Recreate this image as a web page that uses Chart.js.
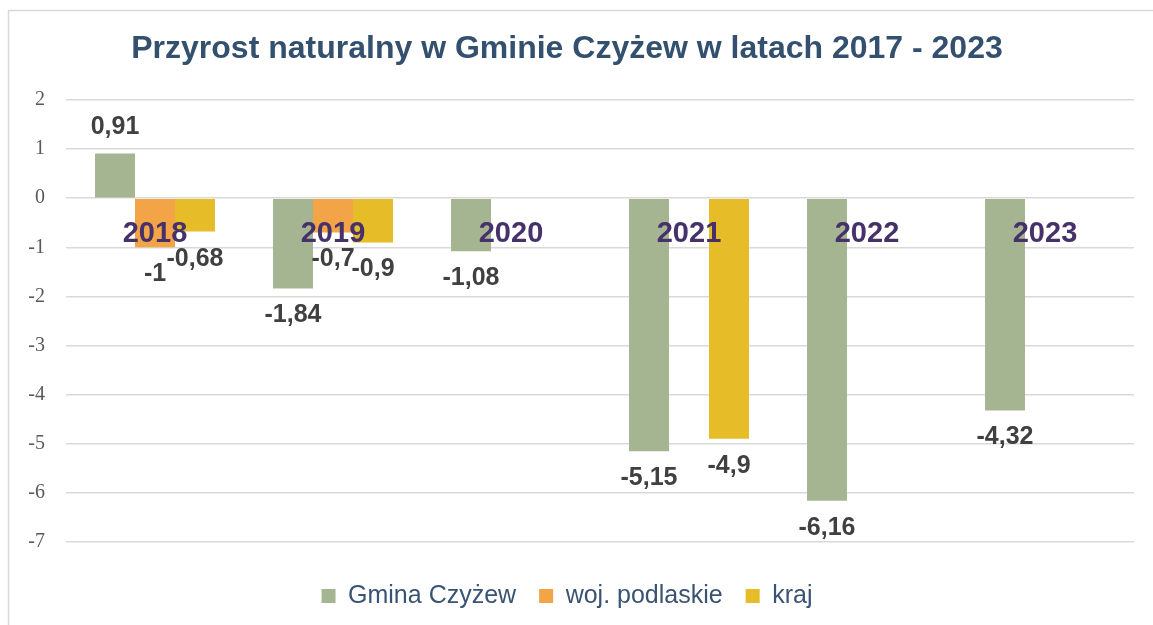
<!DOCTYPE html>
<html>
<head>
<meta charset="utf-8">
<script src="https://cdn.jsdelivr.net/npm/chart.js@4"></script>
<style>
  html, body { margin: 0; padding: 0; background: #ffffff; }
  #wrap { position: relative; width: 1153px; height: 625px; }
  canvas { display: block; }
</style>
</head>
<body>
<div id="wrap"><canvas id="c" width="1153" height="625"></canvas></div>
<script>
const categories = ['2018', '2019', '2020', '2021', '2022', '2023'];
const seriesNames = ['Gmina Czyżew', 'woj. podlaskie', 'kraj'];
const gminaValues = [0.91, -1.84, -1.08, -5.15, -6.16, -4.32];
const wojValues = [-1, -0.7, null, null, null, null];
const krajValues = [-0.68, -0.9, null, -4.9, null, null];
const yTicks = [2, 1, 0, -1, -2, -3, -4, -5, -6, -7];
const titleText = 'Przyrost naturalny w Gminie Czyżew w latach 2017 - 2023';

const colors = ['#A5B592', '#F3A447', '#E6BC29'];

const frame = {
  id: 'frame',
  beforeDraw(chart) {
    const ctx = chart.ctx;
    ctx.save();
    ctx.fillStyle = '#ffffff';
    ctx.fillRect(0, 0, chart.width, chart.height);
    ctx.strokeStyle = '#D9D9D9';
    ctx.lineWidth = 1.5;
    ctx.strokeRect(8.5, 10.5, 1300, 800);
    ctx.restore();
  }
};

const valueLabels = {
  id: 'valueLabels',
  afterDraw(chart) {
    const ctx = chart.ctx;
    ctx.save();
    ctx.font = 'bold 25px "Liberation Sans", Arial, sans-serif';
    ctx.fillStyle = '#404040';
    ctx.textAlign = 'center';
    ctx.textBaseline = 'middle';
    chart.data.datasets.forEach((ds, di) => {
      const meta = chart.getDatasetMeta(di);
      meta.data.forEach((bar, i) => {
        const v = ds.data[i];
        if (v === null || v === undefined) return;
        const y = v >= 0 ? bar.y - 26 : bar.y + 27;
        ctx.fillText(String(v).replace('.', ','), bar.x, y);
      });
    });
    ctx.restore();
  }
};

new Chart(document.getElementById('c'), {
  type: 'bar',
  data: {
    labels: categories,
    datasets: [
      { label: seriesNames[0], data: gminaValues, backgroundColor: colors[0] },
      { label: seriesNames[1], data: wojValues, backgroundColor: colors[1] },
      { label: seriesNames[2], data: krajValues, backgroundColor: colors[2] }
    ]
  },
  options: {
    responsive: false,
    animation: false,
    devicePixelRatio: 1,
    layout: { padding: { left: 0, right: 19, top: 0, bottom: 6.5 } },
    datasets: { bar: { barPercentage: 1, categoryPercentage: 0.674, borderWidth: 0 } },
    scales: {
      x: {
        position: { y: 0 },
        grid: { display: false },
        border: { display: false },
        ticks: {
          z: 1,
          autoSkip: false,
          maxRotation: 0,
          padding: 10,
          color: '#47316A',
          font: { family: '"Liberation Sans", Arial, sans-serif', size: 29, weight: 'bold' }
        }
      },
      y: {
        min: -7,
        max: 2,
        afterBuildTicks(scale) { scale.ticks = yTicks.map(v => ({ value: v })); },
        afterFit(scale) { scale.width = 66; },
        grid: { color: '#D9D9D9', lineWidth: 1.5, drawTicks: false },
        border: { display: false },
        ticks: {
          padding: 21,
          color: '#595959',
          font: { family: '"Liberation Serif", "Times New Roman", serif', size: 20 }
        }
      }
    },
    plugins: {
      title: {
        display: true,
        text: titleText,
        color: '#33506F',
        font: { family: '"Liberation Sans", Arial, sans-serif', size: 32, weight: 'bold' },
        padding: { top: 30.3, bottom: 31.3 }
      },
      legend: {
        position: 'bottom',
        title: { display: true, text: '', font: { size: 1, lineHeight: 1 }, padding: { top: 0, bottom: 17.5 } },
        labels: {
          boxWidth: 14,
          boxHeight: 14,
          padding: 23,
          color: '#3A5373',
          font: { family: '"Liberation Sans", Arial, sans-serif', size: 25 }
        }
      },
      tooltip: { enabled: false }
    }
  },
  plugins: [frame, valueLabels]
});
</script>
</body>
</html>
